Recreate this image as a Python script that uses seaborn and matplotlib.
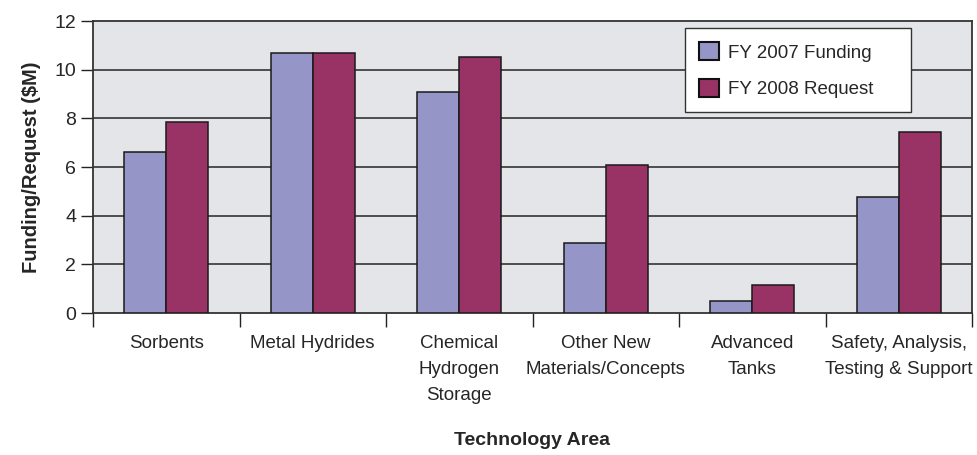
import matplotlib
matplotlib.use("Agg")
import matplotlib.pyplot as plt
import seaborn as sns
import pandas as pd
import numpy as np

categories = ["Sorbents", "Metal Hydrides", "Chemical\nHydrogen\nStorage",
              "Other New\nMaterials/Concepts", "Advanced\nTanks",
              "Safety, Analysis,\nTesting & Support"]
fy2007 = [6.61, 10.67, 9.09, 2.88, 0.51, 4.75]
fy2008 = [7.85, 10.67, 10.54, 6.09, 1.14, 7.44]
series = ["FY 2007 Funding", "FY 2008 Request"]
yticks = [0, 2, 4, 6, 8, 10, 12]

df = pd.DataFrame({
    "cat": categories * 2,
    "val": fy2007 + fy2008,
    "series": [series[0]] * len(categories) + [series[1]] * len(categories),
})

sns.set_theme(style="white")
plt.rcParams["font.family"] = ["Liberation Sans", "DejaVu Sans"]

fig = plt.figure(figsize=(9.77, 4.55), dpi=100)
ax = fig.add_axes([93/977, 1 - 313/455, (972-93)/977, (313-21)/455])
ax.set_facecolor("#E4E5E8")

sns.barplot(data=df, x="cat", y="val", hue="series", order=categories,
            hue_order=series, palette=["#9595C7", "#993366"], width=0.575,
            gap=0, edgecolor="#1a1a1a", linewidth=1.1, saturation=1,
            ax=ax, zorder=3)

ax.set_xlim(-0.5, len(categories) - 0.5)
ax.set_ylim(0, 12)
ax.set_yticks(yticks)
ax.set_yticklabels([str(v) for v in yticks], fontsize=14)
for v in yticks[1:-1]:
    ax.axhline(v, color="#4d4d4d", lw=1.4, zorder=1)

ax.set_xticks(range(len(categories)))
ax.set_xticklabels(categories, fontsize=13.5, linespacing=1.7, va="top")
ax.tick_params(axis="x", which="major", length=0, pad=16)
ax.set_xticks(np.arange(-0.5, len(categories), 1.0), minor=True)
ax.tick_params(axis="x", which="minor", length=10, width=1, color="#222222",
               direction="out", bottom=True)
ax.tick_params(axis="y", length=9, width=1, color="#222222", direction="out",
               left=True, pad=3)

for s in ax.spines.values():
    s.set_color("#333333")
    s.set_linewidth(1.3)
    s.set_visible(True)

ax.set_xlabel("Technology Area", fontsize=14, fontweight="bold", labelpad=20)
ax.set_ylabel("Funding/Request ($M)", fontsize=14.5, fontweight="bold", labelpad=10)

leg = ax.legend(loc="upper left", bbox_to_anchor=(0.673, 0.975, 0.258, 0.0),
                mode="expand", fontsize=13.5,
                frameon=True, fancybox=False, framealpha=1, edgecolor="#333333",
                handlelength=1.1, handleheight=1.1, handletextpad=0.45,
                borderpad=0.75, labelspacing=0.9, borderaxespad=0)
leg.get_frame().set_linewidth(1.0)
for p in leg.get_patches():
    p.set_edgecolor("#111111")
    p.set_linewidth(1.5)

fig.savefig("out.png", dpi=100)
